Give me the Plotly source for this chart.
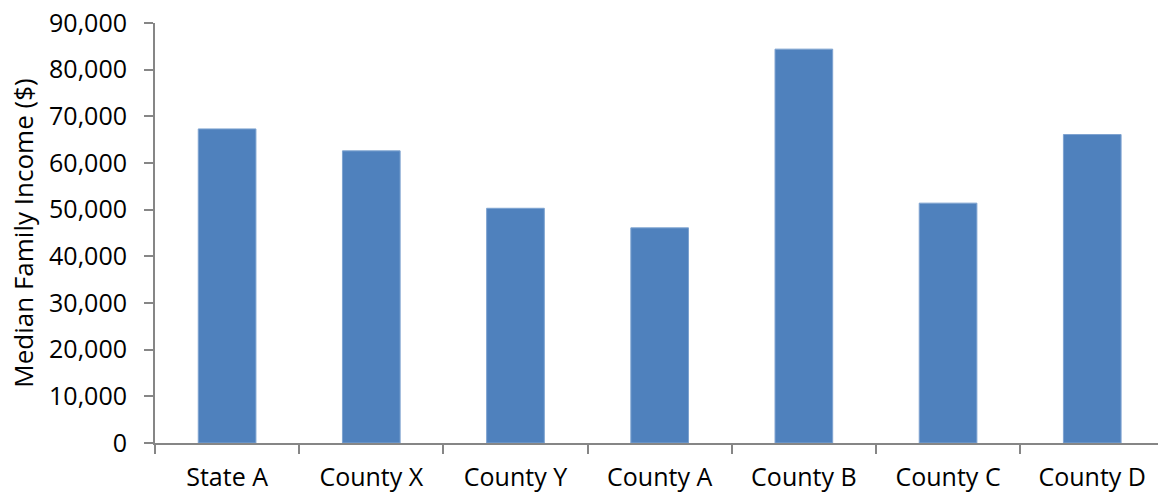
import plotly.graph_objects as go

categories = ["State A", "County X", "County Y", "County A", "County B", "County C", "County D"]
income = [67300, 62600, 50300, 46100, 84400, 51400, 66100]
y_ticks = [0, 10000, 20000, 30000, 40000, 50000, 60000, 70000, 80000, 90000]
y_tick_text = ["0", "10,000", "20,000", "30,000", "40,000", "50,000", "60,000", "70,000", "80,000", "90,000"]

FONT = "Open Sans"
AXIS_COLOR = "#868686"

fig = go.Figure(
    go.Bar(
        x=categories,
        y=income,
        marker=dict(color="#4F81BD", line=dict(color="#7EA3D0", width=1)),
        width=0.4,
    )
)

fig.update_layout(
    width=1159,
    height=498,
    margin=dict(l=155, r=1, t=23, b=55),
    plot_bgcolor="white",
    paper_bgcolor="white",
    showlegend=False,
    font=dict(family=FONT, size=25, color="black"),
)

fig.update_xaxes(
    type="category",
    range=[-0.5, 6.456],
    showline=True,
    linecolor=AXIS_COLOR,
    linewidth=2,
    ticks="outside",
    ticklen=9,
    tickcolor=AXIS_COLOR,
    tickwidth=2,
    tickson="boundaries",
    showgrid=False,
    tickfont=dict(family=FONT, size=25, color="black"),
    ticklabelstandoff=11,
)

fig.update_yaxes(
    range=[0, 90000],
    tickvals=y_ticks,
    ticktext=y_tick_text,
    showline=True,
    linecolor=AXIS_COLOR,
    linewidth=2,
    ticks="outside",
    ticklen=9,
    tickcolor=AXIS_COLOR,
    tickwidth=2,
    showgrid=False,
    zeroline=False,
    tickfont=dict(family=FONT, size=25, color="black"),
    ticklabelstandoff=12,
    title=dict(text="Median Family Income ($)", font=dict(family=FONT, size=26, color="black"), standoff=8),
)

fig.write_html("out.html")
